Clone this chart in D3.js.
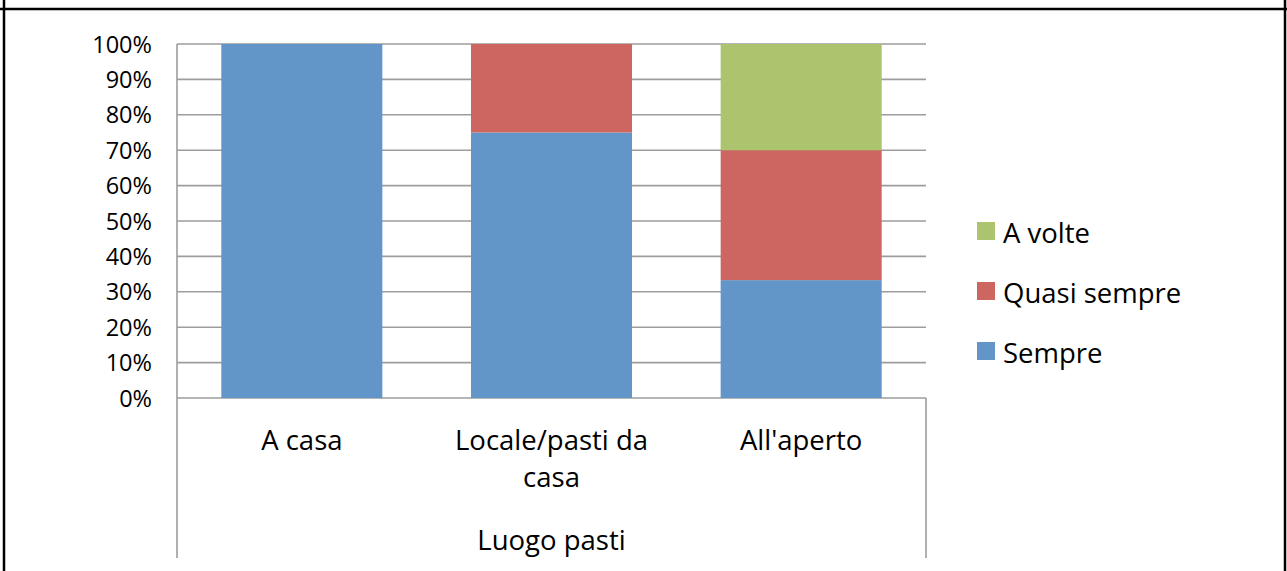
<!DOCTYPE html>
<html>
<head>
<meta charset="utf-8">
<script src="https://cdn.jsdelivr.net/npm/d3@7"></script>
<style>
  html, body { margin: 0; padding: 0; background: #fff; }
  svg { display: block; }
  text { font-family: "Open Sans", sans-serif; fill: #000; }
</style>
</head>
<body>
<svg id="chart" width="1287" height="571"></svg>
<script>
// Categories (meal location) and stacked series, in percent
const categories = ["A casa", "Locale/pasti da casa", "All'aperto"];
const categoryLines = [["A casa"], ["Locale/pasti da", "casa"], ["All'aperto"]];
const groupLabel = "Luogo pasti";
const seriesNames = ["Sempre", "Quasi sempre", "A volte"];
const sempre = [100, 75, 33.3];
const quasiSempre = [0, 25, 36.7];
const aVolte = [0, 0, 30];
const yTicks = [0, 10, 20, 30, 40, 50, 60, 70, 80, 90, 100];
const colors = ["#6396c8", "#cd6660", "#abc46d"];

const tickFont = 23.5;
const labelFont = 27.5;
const svg = d3.select("#chart");

// Outer cell border
svg.append("line").attr("x1", 0).attr("x2", 1287).attr("y1", 9).attr("y2", 9)
  .attr("stroke", "#000").attr("stroke-width", 2.5);
svg.append("line").attr("x1", 4).attr("x2", 4).attr("y1", 0).attr("y2", 571)
  .attr("stroke", "#000").attr("stroke-width", 2.5);
svg.append("line").attr("x1", 1285).attr("x2", 1285).attr("y1", 0).attr("y2", 571)
  .attr("stroke", "#000").attr("stroke-width", 2.5);

const plot = { left: 177, right: 926, top: 44, bottom: 398 };

const x = d3.scaleBand().domain(categories).range([plot.left, plot.right])
  .paddingInner(0.355).paddingOuter(0.1775);
const y = d3.scaleLinear().domain([0, 100]).range([plot.bottom, plot.top]);

const g = svg.append("g");

// Horizontal gridlines
g.selectAll("line.grid").data(yTicks).join("line")
  .attr("class", "grid")
  .attr("x1", plot.left).attr("x2", plot.right)
  .attr("y1", d => y(d)).attr("y2", d => y(d))
  .attr("stroke", "#9d9d9d").attr("stroke-width", 1.6);

// Stacked bars
const rows = categories.map((c, i) => ({
  cat: c, "Sempre": sempre[i], "Quasi sempre": quasiSempre[i], "A volte": aVolte[i]
}));
const stack = d3.stack().keys(seriesNames)(rows);

g.selectAll("g.series").data(stack).join("g")
  .attr("class", "series")
  .attr("fill", (d, i) => colors[i])
  .selectAll("rect").data(d => d).join("rect")
  .attr("x", d => x(d.data.cat))
  .attr("width", x.bandwidth())
  .attr("y", d => y(d[1]))
  .attr("height", d => y(d[0]) - y(d[1]));

// Value axis line
g.append("line").attr("x1", plot.left).attr("x2", plot.left)
  .attr("y1", plot.top).attr("y2", plot.bottom)
  .attr("stroke", "#9d9d9d").attr("stroke-width", 1.6);

// Y tick labels
g.selectAll("text.ytick").data(yTicks).join("text")
  .attr("class", "ytick")
  .attr("x", 152).attr("y", d => y(d))
  .attr("dy", "0.37em")
  .attr("text-anchor", "end")
  .attr("font-size", tickFont)
  .text(d => d + "%");

// Category axis frame (multi-level)
[plot.left, plot.right].forEach(px => {
  g.append("line").attr("x1", px).attr("x2", px)
    .attr("y1", plot.bottom).attr("y2", 558)
    .attr("stroke", "#9d9d9d").attr("stroke-width", 1.6);
});

// Category labels
categories.forEach((c, i) => {
  const t = g.append("text")
    .attr("text-anchor", "middle")
    .attr("font-size", labelFont)
    .attr("x", x(c) + x.bandwidth() / 2)
    .attr("y", 450);
  categoryLines[i].forEach((line, j) => {
    t.append("tspan").attr("x", x(c) + x.bandwidth() / 2)
      .attr("dy", j === 0 ? 0 : 37).text(line);
  });
});

// Group label
g.append("text")
  .attr("text-anchor", "middle")
  .attr("font-size", labelFont)
  .attr("x", (plot.left + plot.right) / 2)
  .attr("y", 550)
  .text(groupLabel);

// Legend (reverse order, top to bottom)
const legendItems = seriesNames.map((n, i) => ({ name: n, color: colors[i] })).reverse();
const legend = svg.append("g").attr("transform", "translate(977,222)");
legend.selectAll("g").data(legendItems).join("g")
  .attr("transform", (d, i) => `translate(0,${i * 60})`)
  .each(function(d) {
    const item = d3.select(this);
    item.append("rect").attr("width", 18).attr("height", 18).attr("fill", d.color);
    item.append("text").attr("x", 26).attr("y", 21)
      .attr("font-size", labelFont).text(d.name);
  });
</script>
</body>
</html>
